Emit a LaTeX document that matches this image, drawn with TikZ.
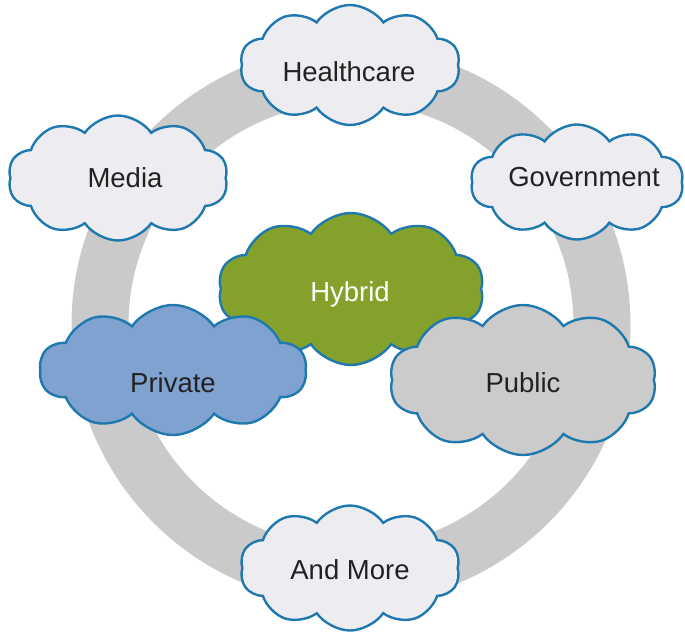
\documentclass[tikz,border=0pt]{standalone}
\usepackage{fontspec}
\setmainfont{Liberation Sans}
\usetikzlibrary{shapes.symbols}
\definecolor{ringgray}{HTML}{CACACA}
\definecolor{lightfill}{HTML}{EDEDF1}
\definecolor{edgeblue}{HTML}{1F78AE}
\definecolor{hybridgreen}{HTML}{84A22B}
\definecolor{privateblue}{HTML}{7FA2D0}
\definecolor{publicgray}{HTML}{CBCBCB}
\definecolor{txt}{HTML}{222222}
\tikzset{
  cloudbox/.style={cloud, cloud puffs=10, cloud puff arc=110, cloud ignores aspect,
    draw=edgeblue, line width=2.4pt, inner sep=0pt},
  lightcloud/.style={cloudbox, fill=lightfill},
  lbl/.style={font=\fontsize{27.5}{30}\selectfont, text=txt, inner sep=0pt},
}
\begin{document}
\begin{tikzpicture}[x=1pt,y=-1pt]
\useasboundingbox (0,0) rectangle (685,633);
\coordinate (ringc) at (351,325);
\draw[ringgray, line width=57pt] (ringc) circle[radius=251pt];
\node[lightcloud, minimum width=220pt, minimum height=120pt] (health) at (350,65) {};
\node[lbl] (healthT) at (349,72) {Healthcare};
\node[lightcloud, minimum width=220pt, minimum height=125pt] (media) at (118,178) {};
\node[lbl] (mediaT) at (125,178) {Media};
\node[lightcloud, minimum width=213pt, minimum height=115pt] (gov) at (577,182) {};
\node[lbl] (govT) at (584,177) {Government};
\node[lightcloud, minimum width=220pt, minimum height=125pt] (more) at (350,568) {};
\node[lbl] (moreT) at (350,570) {And More};
\node[cloudbox, fill=hybridgreen, minimum width=266pt, minimum height=152pt] (hybrid) at (351,289) {};
\node[lbl, text=white] (hybridT) at (350,294) {Hybrid};
\node[cloudbox, fill=privateblue, minimum width=267pt, minimum height=130pt] (private) at (173,370) {};
\node[lbl] (privateT) at (173,383) {Private};
\node[cloudbox, fill=publicgray, minimum width=267pt, minimum height=150pt] (public) at (523,380) {};
\node[lbl] (publicT) at (523,383) {Public};
\end{tikzpicture}
\end{document}
